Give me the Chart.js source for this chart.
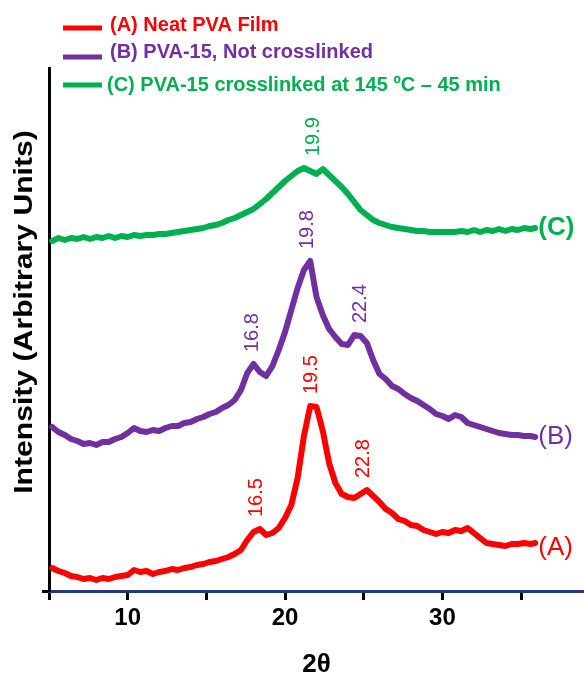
<!DOCTYPE html>
<html><head><meta charset="utf-8">
<script src="https://cdn.jsdelivr.net/npm/chart.js@4.4.1/dist/chart.umd.min.js"></script>
<style>html,body{margin:0;padding:0;background:#fff;}</style>
</head><body>
<canvas id="c" width="584" height="678"></canvas>
<script>
// ---- data ----
const twoTheta = [5.2,5.6,6.0,6.4,6.8,7.2,7.6,8.0,8.4,8.8,9.2,9.6,10.0,10.4,10.8,11.2,11.6,12.0,12.4,12.8,13.2,13.6,14.0,14.4,14.8,15.2,15.6,16.0,16.4,16.8,17.2,17.6,18.0,18.4,18.8,19.2,19.6,20.0,20.4,20.8,21.2,21.6,22.0,22.4,22.8,23.2,23.6,24.0,24.4,24.8,25.2,25.6,26.0,26.4,26.8,27.2,27.6,28.0,28.4,28.8,29.2,29.6,30.0,30.4,30.8,31.2,31.6,32.0,32.4,32.8,33.2,33.6,34.0,34.4,34.8,35.2,35.6,35.9];
const neatPVA = [23,20,18,15,14,12,13,11,13,12, 14,15,16,21,19,20,17,19,20,22, 21,23,24,26,27,29,30,32,34,37, 41,51,59,62,56,58,63,73,86,113, 155,185,184,160,128,108,97,94,93,97, 101,95,89,82,78,72,70,66,65,61, 59,57,59,58,61,60,63,58,53,48, 47,46,45,47,47,48,47,48];
const pva15 = [164,159,156,152,150,147,148,146,149,149, 152,154,158,163,160,159,161,160,163,165, 165,168,169,172,174,177,179,183,186,191, 201,218,227,219,215,225,241,259,281,303, 321,330,294,276,262,254,247,246,256,255, 248,231,217,212,205,202,197,193,190,186, 182,177,175,172,176,174,168,166,164,162, 160,158,157,156,156,155,155,154];
const pva15X = [350,353,351,353,352,354,352,354,353,355, 353,355,354,356,355,356,356,357,357,358, 359,360,361,362,363,365,366,368,371,373, 376,379,382,387,392,398,404,410,415,420, 423,420,417,422,416,410,404,397,389,381, 376,371,368,366,364,363,362,361,360,360, 359,359,359,359,359,360,359,361,359,361, 360,362,360,362,361,363,362,363];
const seriesLabels = ['(A) Neat PVA Film', '(B) PVA-15, Not crosslinked', '(C) PVA-15 crosslinked at 145 ºC – 45 min'];
const endLabels = ['(A)', '(B)', '(C)'];
const seriesColors = ['#ff0000', '#7030a0', '#00b050'];
const xTickValues = [5, 10, 15, 20, 25, 30, 35];
const yTitle = 'Intensity (Arbitrary Units)';
const xTitle = '2θ';
const peakSeries = [0, 0, 0, 1, 1, 1, 2];
const peakAt = [18.2, 21.7, 25.0, 17.95, 21.4, 24.8, 21.8];
const peakText = ['16.5', '19.5', '22.8', '16.8', '19.8', '22.4', '19.9'];

const FONT = "'Liberation Sans', Arial, Helvetica, sans-serif";

const decor = {
  id: 'decor',
  afterDatasetsDraw(chart) {
    const ctx = chart.ctx, xs = chart.scales.x, ys = chart.scales.y;
    const dsets = chart.data.datasets;
    // peak value labels
    for (let i = 0; i < peakText.length; i++) {
      const ds = dsets[peakSeries[i]];
      let best = 0, bd = 1e9;
      twoTheta.forEach((t, k) => { const d = Math.abs(t - peakAt[i]); if (d < bd) { bd = d; best = k; } });
      let v = -1e9;
      twoTheta.forEach((t, k) => { if (Math.abs(t - twoTheta[best]) <= 0.41) v = Math.max(v, ds.data[k].y); });
      const px = xs.getPixelForValue(peakAt[i]);
      const py = ys.getPixelForValue(v) - 12;
      ctx.save();
      ctx.translate(px, py);
      ctx.rotate(-Math.PI / 2);
      ctx.font = `20px ${FONT}`;
      ctx.fillStyle = ds.borderColor;
      ctx.textAlign = 'left';
      ctx.textBaseline = 'middle';
      ctx.fillText(peakText[i], 0, 0);
      ctx.restore();
    }
    // end-of-curve labels
    dsets.forEach((ds, i) => {
      const last = ds.data[ds.data.length - 1];
      const px = xs.getPixelForValue(last.x) + 3;
      const py = ys.getPixelForValue(last.y) + (i === 0 ? 5 : 0);
      ctx.save();
      ctx.font = `${i === 2 ? 'bold ' : ''}26px ${FONT}`;
      ctx.fillStyle = ds.borderColor;
      ctx.textAlign = 'left';
      ctx.textBaseline = 'middle';
      ctx.fillText(endLabels[i], px, py);
      ctx.restore();
    });
    // legend
    const rows = [{ly: 28, ty: 25, tx: 110}, {ly: 57, ty: 52, tx: 110}, {ly: 85, ty: 85, tx: 107}];
    dsets.forEach((ds, i) => {
      const r = rows[i];
      ctx.save();
      ctx.strokeStyle = ds.borderColor;
      ctx.lineWidth = 5;
      ctx.beginPath(); ctx.moveTo(63, r.ly); ctx.lineTo(102, r.ly); ctx.stroke();
      ctx.font = `bold 20px ${FONT}`;
      ctx.fillStyle = ds.borderColor;
      ctx.textAlign = 'left';
      ctx.textBaseline = 'middle';
      ctx.fillText(ds.label, r.tx, r.ty);
      ctx.restore();
    });
    // y-axis title (slightly stretched along its length, as in the reference)
    ctx.save();
    ctx.translate(25, 312);
    ctx.rotate(-Math.PI / 2);
    ctx.scale(1.16, 1);
    ctx.font = `bold 26px ${FONT}`;
    ctx.fillStyle = '#000';
    ctx.textAlign = 'center';
    ctx.textBaseline = 'middle';
    ctx.fillText(yTitle, 0, 0);
    ctx.restore();
  }
};

const mk = (ys) => twoTheta.map((t, k) => ({x: t, y: ys[k]}));

new Chart(document.getElementById('c'), {
  type: 'line',
  data: {
    datasets: [
      {label: seriesLabels[0], data: mk(neatPVA), borderColor: seriesColors[0]},
      {label: seriesLabels[1], data: mk(pva15), borderColor: seriesColors[1]},
      {label: seriesLabels[2], data: mk(pva15X), borderColor: seriesColors[2]}
    ]
  },
  options: {
    responsive: false,
    animation: false,
    devicePixelRatio: 1,
    layout: {padding: {top: 68, left: 0, right: 0, bottom: 0}},
    elements: {
      line: {borderWidth: 6, tension: 0, borderJoinStyle: 'round', borderCapStyle: 'round', fill: false},
      point: {radius: 0, hoverRadius: 0}
    },
    plugins: {legend: {display: false}, tooltip: {enabled: false}},
    scales: {
      x: {
        type: 'linear', min: 5, max: 39,
        afterBuildTicks: s => { s.ticks = xTickValues.map(v => ({value: v})); },
        afterFit: s => { s.height = 87; },
        ticks: {
          callback: v => (v % 10 === 0 ? String(v) : ''),
          font: {family: FONT, size: 24, weight: 'bold'}, color: '#000', padding: 4, maxRotation: 0, autoSkip: false
        },
        grid: {drawOnChartArea: false, drawTicks: true, tickLength: 9, tickWidth: 3, tickColor: '#000'},
        border: {color: '#1f3a78', width: 3},
        title: {display: true, text: xTitle, font: {family: FONT, size: 26, weight: 'bold', lineHeight: 1}, color: '#000', padding: {top: 0, bottom: 0}}
      },
      y: {
        min: 0, max: 523,
        afterBuildTicks: s => { s.ticks = [{value: 0}]; },
        afterFit: s => { s.width = 49; },
        ticks: {display: false},
        grid: {drawOnChartArea: false, drawTicks: true, tickLength: 7, tickWidth: 3, tickColor: '#000'},
        border: {color: '#000', width: 3},
        title: {display: false}
      }
    }
  },
  plugins: [decor]
});
</script>
</body></html>
